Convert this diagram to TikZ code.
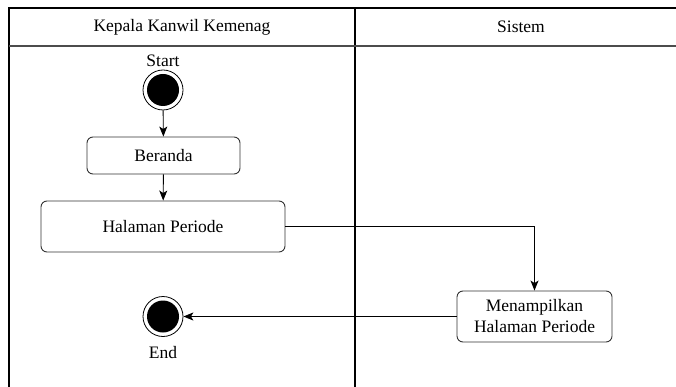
\documentclass[tikz,border=0pt]{standalone}
\usepackage{fontspec}
\setmainfont{LiberationSerif}[Extension=.ttf,UprightFont=*-Regular]
\usetikzlibrary{arrows.meta}

\begin{document}
\begin{tikzpicture}[x=1pt,y=-1pt,
    font=\rmfamily\fontsize{17.5}{21}\selectfont,
    act/.style={draw=black!80,line width=0.9pt,rounded corners=6pt,inner sep=0pt},
    startend/.style={circle,draw,line width=0.8pt,minimum size=40pt,inner sep=0pt,
      path picture={\fill (path picture bounding box.center) circle (16pt);}},
    flow/.style={line width=0.9pt,-{Stealth[length=10pt,width=8pt,inset=2.5pt]}}]
    \useasboundingbox (0,0) rectangle (676,387);
    % swimlanes
    \draw[line width=1.3pt] (9,387) -- (9,8) -- (676,8);
    \draw[line width=1.3pt] (355,8) -- (355,387);
    \draw[black!70,line width=1.8pt] (9,46) -- (676,46);
    \node (LANEA) at (182,27) {Kepala Kanwil Kemenag};
    \node (LANEB) at (521,27) {Sistem};

    \node (STARTLBL) at (163,61) {Start};
    \node[startend] (START) at (163,90) {};
    \node[act,minimum width=153pt,minimum height=37pt] (BER) at (163.5,155.5) {Beranda};
    \node[act,minimum width=244pt,minimum height=51pt] (HAL) at (163,226.5) {Halaman Periode};
    \node[act,minimum width=155pt,minimum height=51pt,align=center] (MEN) at (534.5,316.5) {Menampilkan\\Halaman Periode};
    \node[startend] (END) at (163,316.5) {};
    \node (ENDLBL) at (163,353) {End};

    \draw[flow] (START) -- (BER);
    \draw[flow] (BER) -- (HAL);
    \draw[flow] (HAL.east) -| (MEN.north);
    \draw[flow] (MEN.west) -- (END);
\end{tikzpicture}
\end{document}
